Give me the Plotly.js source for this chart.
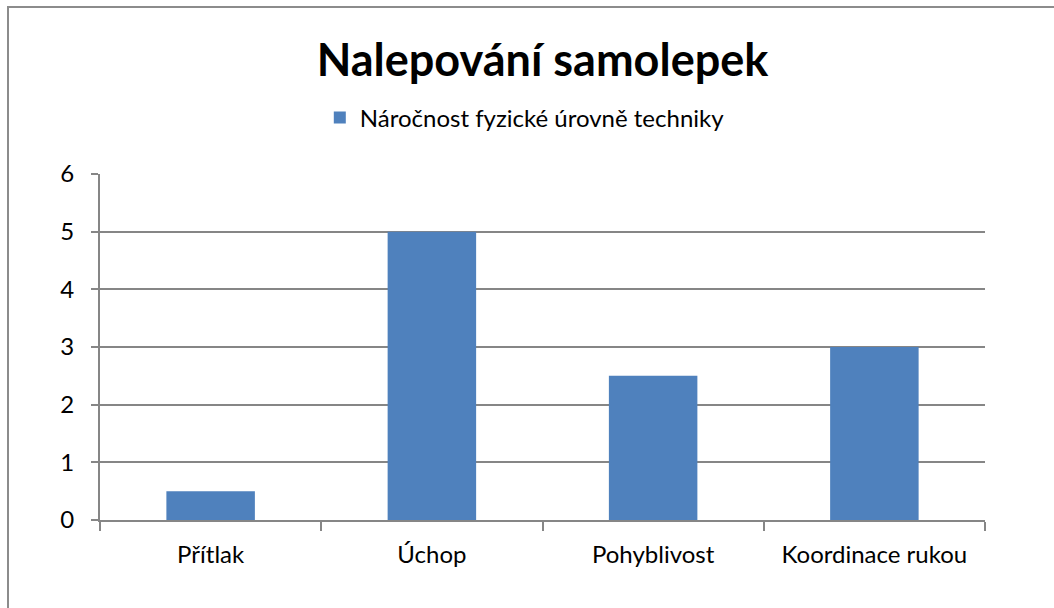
<!DOCTYPE html>
<html>
<head>
<meta charset="utf-8">
<script src="https://cdn.plot.ly/plotly-3.0.1.min.js"></script>
<style>
html,body{margin:0;padding:0;background:#fff;}
#wrap{position:relative;width:1054px;height:608px;overflow:hidden;}
#frame{position:absolute;left:7px;top:6px;width:1100px;height:700px;border-left:2px solid #8c8c8c;border-top:2px solid #8c8c8c;pointer-events:none;}
#chart{position:absolute;left:0;top:0;width:1054px;height:608px;}
</style>
</head>
<body>
<div id="wrap">
<div id="chart"></div>
<div id="frame"></div>
</div>
<script>
const categories = ["Přítlak", "Úchop", "Pohyblivost", "Koordinace rukou"];
const values = [0.5, 5, 2.5, 3];
const seriesName = "Náročnost fyzické úrovně techniky";
const yTicks = [0, 1, 2, 3, 4, 5, 6];

const font = "Lato, 'Open Sans', sans-serif";
const trace = {
  type: "bar",
  x: categories,
  y: values,
  name: seriesName,
  marker: {color: "#4F81BD"},
  showlegend: true
};
const layout = {
  width: 1054, height: 608,
  margin: {l: 100, r: 69, t: 174, b: 88},
  paper_bgcolor: "#fff", plot_bgcolor: "#fff",
  font: {family: font, color: "#000", size: 24},
  title: {text: "<b>Nalepování samolepek</b>", font: {family: font, size: 45, color: "#000"},
          x: 0.5, xref: "paper", y: 0.901, yref: "container", yanchor: "middle"},
  bargap: 0.6,
  showlegend: true,
  legend: {orientation: "h", x: 0.48, xanchor: "center", y: 1.162, yanchor: "middle",
           font: {family: font, size: 24}, itemwidth: 30, traceorder: "normal"},
  xaxis: {type: "category", showline: true, linecolor: "#868686", linewidth: 2,
          ticks: "outside", ticklen: 9, tickcolor: "#868686", tickwidth: 2,
          tickson: "boundaries", showgrid: false, tickfont: {size: 24, family: font},
          ticklabelstandoff: 12, fixedrange: true},
  yaxis: {range: [0, 6], tickvals: yTicks, showline: true, linecolor: "#868686", linewidth: 2,
          ticks: "outside", ticklen: 7, tickcolor: "#868686", tickwidth: 2,
          showgrid: true, gridcolor: "#868686", gridwidth: 2, zeroline: false,
          tickfont: {size: 24, family: font}, ticklabelstandoff: 12, fixedrange: true}
};
Plotly.newPlot("chart", [trace], layout, {displayModeBar: false, staticPlot: true});
</script>
</body>
</html>
